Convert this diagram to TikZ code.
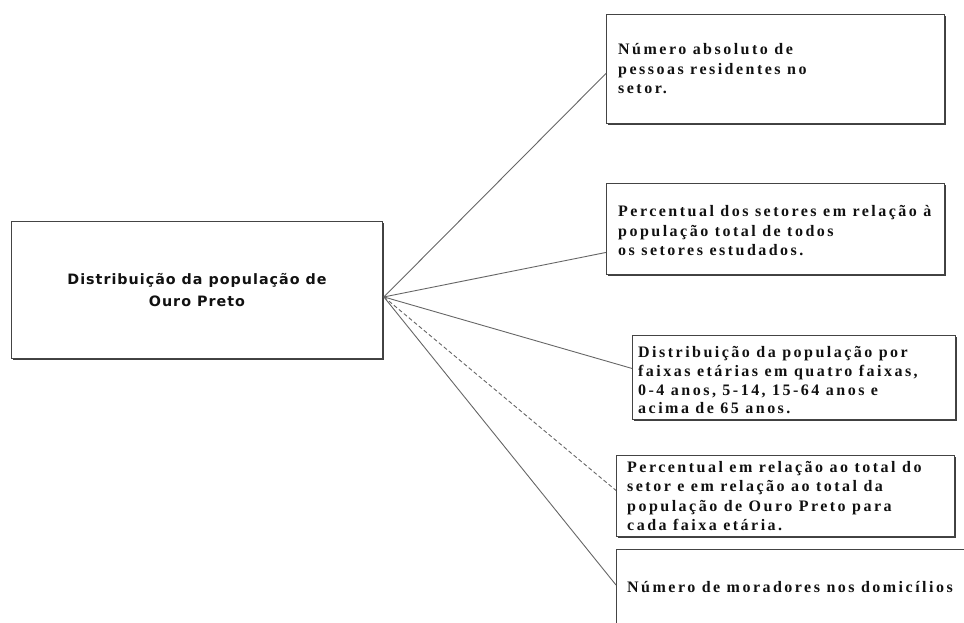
\documentclass[tikz,border=0pt]{standalone}
\usepackage{fontspec}
\setmainfont{Liberation Serif}
\newfontfamily\titlesans[LetterSpace=7]{DejaVu Sans}
\newfontfamily\itemserif[LetterSpace=15.5]{Liberation Serif Bold}
\usetikzlibrary{calc,shadows}
\definecolor{edge}{HTML}{444444}
\definecolor{wire}{HTML}{666666}
\definecolor{ink}{HTML}{111111}
\begin{document}
\begin{tikzpicture}[x=1pt,y=-1pt,
  frame/.style={draw=edge, line width=0.9pt, fill=white, anchor=north west,
    inner sep=0pt, drop shadow={shadow xshift=1.3pt, shadow yshift=-1.3pt,
    fill=black!75, opacity=1}},
  maintext/.style={align=center, text=ink, font=\titlesans\bfseries\fontsize{14.3}{22}\selectfont},
  itemtext/.style={align=left, anchor=west, inner sep=0pt, text=ink,
    font=\itemserif\fontsize{16}{19.5}\selectfont},
  link/.style={draw=wire, line width=0.9pt},
  dashlink/.style={link, dash pattern=on 4pt off 2.5pt}]
\useasboundingbox (0,0) rectangle (964,623);

% central box
\node[frame, minimum width=371pt, minimum height=137pt] (main) at (11,221) {};
\node[maintext] (maintitle) at (main.center) {Distribuição da população de\\Ouro Preto};

% indicator boxes
\node[frame, minimum width=338pt, minimum height=109pt] (b1) at (606,14) {};
\node[itemtext] (t1) at ([xshift=12pt]b1.west)
  {Número absoluto de\\pessoas residentes no\\setor.};

\node[frame, minimum width=338pt, minimum height=91pt] (b2) at (606,183) {};
\node[itemtext] (t2) at ([xshift=12pt,yshift=-2pt]b2.west)
  {Percentual dos setores em relação à\\população total de todos\\os setores estudados.};

\node[frame, minimum width=323pt, minimum height=84pt] (b3) at (632,335) {};
\node[itemtext, font=\itemserif\fontsize{16}{18.7}\selectfont] (t3)
  at ([xshift=6pt,yshift=-3pt]b3.west)
  {Distribuição da população por\\faixas etárias em quatro faixas,\\0-4 anos, 5-14, 15-64 anos e\\acima de 65 anos.};

\node[frame, minimum width=338pt, minimum height=81pt] (b4) at (616,455) {};
\node[itemtext] (t4) at ([xshift=11pt]b4.west)
  {Percentual em relação ao total do\\setor e em relação ao total da\\população de Ouro Preto para\\cada faixa etária.};

\node[frame, minimum width=400pt, minimum height=120pt] (b5) at (616,549) {};
\node[itemtext] (t5) at ([xshift=11pt,yshift=-38pt]b5.north west)
  {Número de moradores nos domicílios};

% connectors from the central box
\coordinate (hub) at ([xshift=1pt,yshift=-7pt]main.east);
\draw[link] (hub) -- ([yshift=-4.5pt]b1.west);
\draw[link] (hub) -- ([yshift=-23.5pt]b2.west);
\draw[link] (hub) -- ([yshift=9pt]b3.west);
\draw[dashlink] (hub) -- ([yshift=5.5pt]b4.west);
\draw[link] (hub) -- ([yshift=-36pt]b5.north west);
\end{tikzpicture}
\end{document}
